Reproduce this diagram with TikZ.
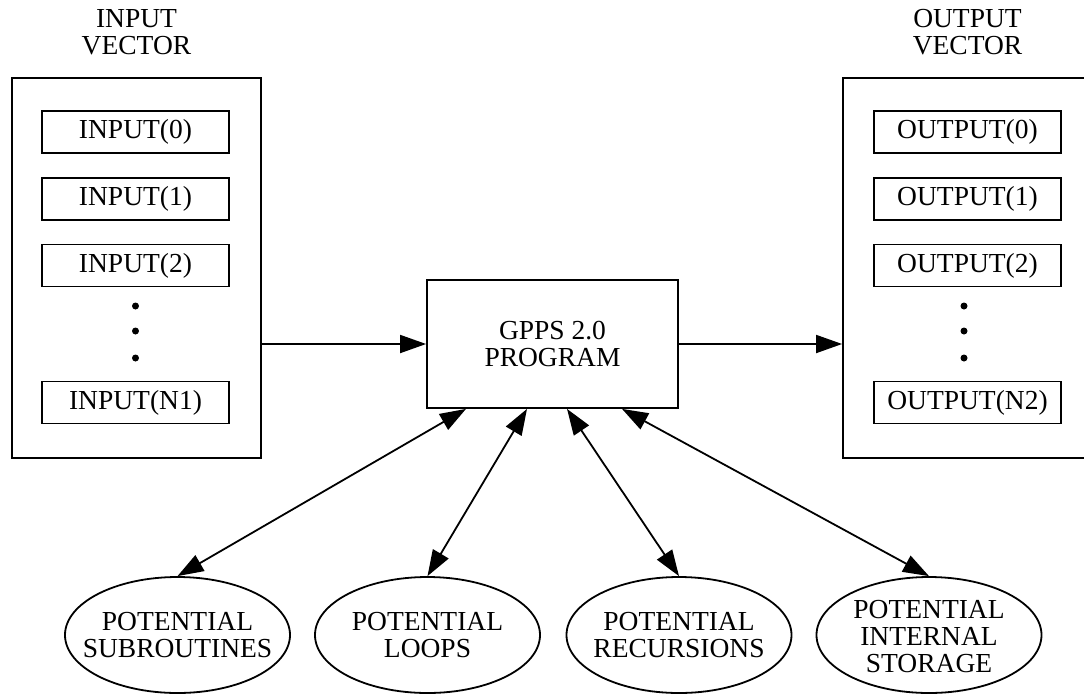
\documentclass[tikz,border=0pt]{standalone}
\usepackage{fontspec}
\setmainfont{Liberation Serif}
\usetikzlibrary{arrows.meta, positioning, shapes.geometric}

\begin{document}
\begin{tikzpicture}[x=1pt, y=-1pt, line width=1.8pt,
    every node/.style={font=\fontsize{27.5}{27}\selectfont, align=center, inner sep=0pt},
    vec node/.style={draw, minimum width=249pt, minimum height=380pt},
    elem node/.style={draw, minimum width=187pt, minimum height=42pt},
    prog node/.style={draw, minimum width=251pt, minimum height=128pt},
    pot node/.style={draw, ellipse, minimum width=225pt, minimum height=116pt},
    conn/.style={-{Triangle[length=26pt, width=18pt]}},
    both conn/.style={{Triangle[length=26pt, width=18pt]}-{Triangle[length=26pt, width=18pt]}}]
\useasboundingbox (0,0) rectangle (1084,694);
\clip (0,0) rectangle (1084,694);

% vectors
\node[vec node] (invec) at (136.5,268) {};
\node[vec node] (outvec) at (967.5,268) {};
\node[above=21pt of invec] (inlabel) {INPUT\\VECTOR};
\node[above=21pt of outvec] (outlabel) {OUTPUT\\VECTOR};

\foreach \i/\y in {0/132, 1/199, 2/265.5, N/402.5}{
    \node[elem node] (in\i) at (135.5,\y) {};
    \node[elem node] (out\i) at (967.5,\y) {};
}
\node at (in0) {INPUT(0)};
\node at (in1) {INPUT(1)};
\node at (in2) {INPUT(2)};
\node at (inN) {INPUT(N1)};
\node at (out0) {OUTPUT(0)};
\node at (out1) {OUTPUT(1)};
\node at (out2) {OUTPUT(2)};
\node at (outN) {OUTPUT(N2)};
\foreach \y in {306, 331, 358}{
    \fill (135.5,\y) circle (3.5pt);
    \fill (964,\y) circle (3.5pt);
}

% program
\node[prog node] (prog) at (552.5,344) {GPPS 2.0\\PROGRAM};
\draw[conn] (invec.east |- prog.west) -- (prog.west);
\draw[conn] (prog.east) -- (outvec.west |- prog.east);

% potentials
\node[pot node] (sub) at (177.5,635) {};
\node[pot node] (loops) at (427.5,635) {};
\node[pot node] (rec) at (679,635) {};
\node[pot node] (stor) at (929,635) {};
\node at (sub) {POTENTIAL\\SUBROUTINES};
\node at (loops) {POTENTIAL\\LOOPS};
\node at (rec) {POTENTIAL\\RECURSIONS};
\node at ([yshift=-2pt]stor) {POTENTIAL\\INTERNAL\\STORAGE};

\draw[both conn] ([xshift=-86.5pt]prog.south) -- (sub.north);
\draw[both conn] ([xshift=-25.5pt]prog.south) -- (loops.north);
\draw[both conn] ([xshift=14.5pt]prog.south) -- (rec.north);
\draw[both conn] ([xshift=69.5pt]prog.south) -- (stor.north);
\end{tikzpicture}
\end{document}
